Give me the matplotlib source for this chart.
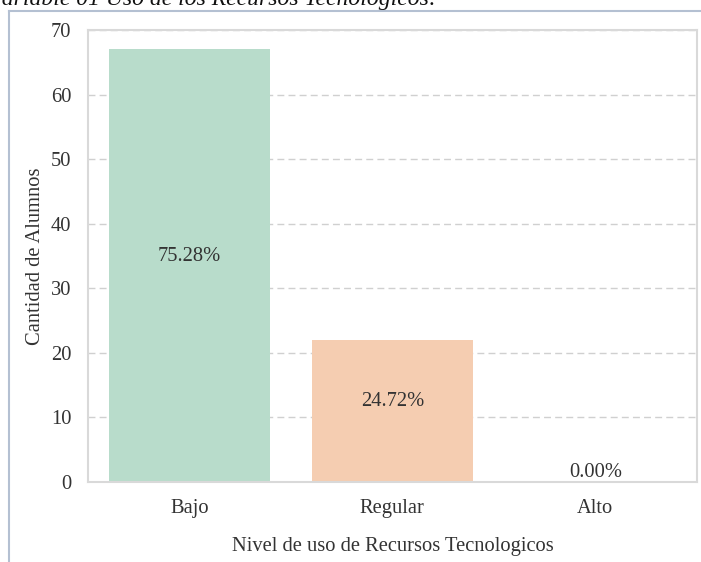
import matplotlib
matplotlib.use("Agg")
import matplotlib.pyplot as plt
from matplotlib.lines import Line2D

categories = ["Bajo", "Regular", "Alto"]
counts = [67, 22, 0]
colors = ["#b8dccb", "#f5cdb1", "#cbd5e8"]
title_text = "Variable 01 Uso de los Recursos Tecnologicos:"
xlabel = "Nivel de uso de Recursos Tecnologicos"
ylabel = "Cantidad de Alumnos"
yticks = [0, 10, 20, 30, 40, 50, 60, 70]

plt.rcParams['font.family'] = ['Liberation Serif', 'DejaVu Serif']
text_color = "#333333"
fs = 14.8

fig = plt.figure(figsize=(7.01, 5.62), dpi=100)
ax = fig.add_axes([0.1255, 0.1423, 0.994 - 0.1255, 0.9466 - 0.1423])

x = list(range(len(categories)))
ax.bar(x, counts, width=0.79, color=colors, zorder=2)
total = sum(counts)
for xi, c in zip(x, counts):
    ax.text(xi, c / 2, f"{c / total * 100:.2f}%", ha="center", va="bottom",
            fontsize=fs, color=text_color, zorder=3)

ax.set_xlim(-0.5, 2.5)
ax.set_ylim(0, 70)
ax.set_yticks(yticks)
ax.set_xticks(x)
ax.set_xticklabels(categories)
ax.tick_params(axis="both", length=0, labelsize=fs, colors=text_color)
ax.tick_params(axis="x", pad=12)
ax.tick_params(axis="y", pad=12)
ax.yaxis.grid(True, linestyle=(0, (5, 3)), color="#d0d0d0", linewidth=1.0, zorder=1)
ax.set_axisbelow(True)
for s in ax.spines.values():
    s.set_color("#d9d9d9")
    s.set_linewidth(1.5)
ax.set_xlabel(xlabel, fontsize=fs, color=text_color, labelpad=14)
ax.set_ylabel(ylabel, fontsize=fs, color=text_color, labelpad=4)

# frame lines of the source page
fig.add_artist(Line2D([9 / 701, 1.0], [1 - 11 / 562, 1 - 11 / 562],
                      transform=fig.transFigure, color="#b4c0d2", linewidth=1.5))
fig.add_artist(Line2D([9 / 701, 9 / 701], [0, 1 - 11 / 562],
                      transform=fig.transFigure, color="#b4c0d2", linewidth=1.5))

# partially visible caption at top
fig.text(-0.014, 1 - 5 / 562, title_text, fontsize=17, style="italic",
         color="#111111", ha="left", va="baseline")

fig.savefig("out.png", dpi=100)
